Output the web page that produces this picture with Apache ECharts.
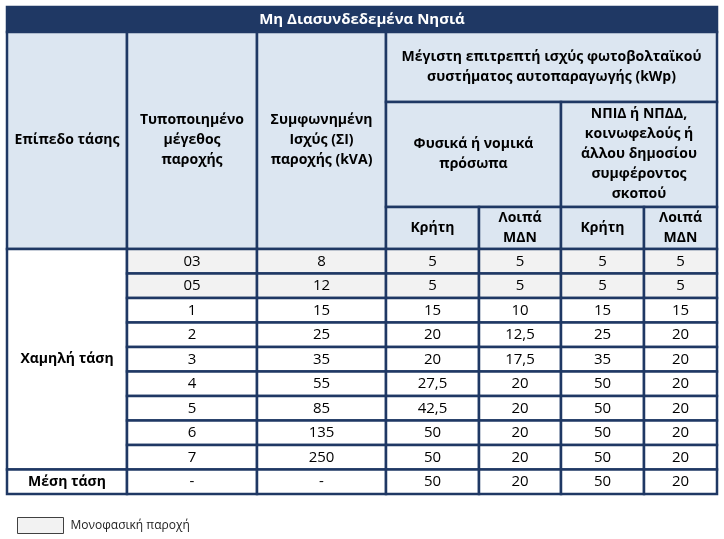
<!DOCTYPE html>
<html><head><meta charset="utf-8">
<script src="https://cdn.jsdelivr.net/npm/echarts@6/dist/echarts.min.js"></script>
<style>html,body{margin:0;padding:0;background:#fff}#c{width:724px;height:539px}</style>
</head><body><div id="c"></div>
<script>
// ---- data ----
const tableTitle = 'Μη Διασυνδεδεμένα Νησιά';
const headVoltage = 'Επίπεδο τάσης';
const headSize = 'Τυποποιημένο\nμέγεθος\nπαροχής';
const headAgreed = 'Συμφωνημένη\nΙσχύς (ΣΙ)\nπαροχής (kVA)';
const headMaxPower = 'Μέγιστη επιτρεπτή ισχύς φωτοβολταϊκού\nσυστήματος αυτοπαραγωγής (kWp)';
const headGroups = ['Φυσικά ή νομικά\nπρόσωπα', 'ΝΠΙΔ ή ΝΠΔΔ,\nκοινωφελούς ή\nάλλου δημοσίου\nσυμφέροντος\nσκοπού'];
const headRegions = ['Κρήτη', 'Λοιπά\nΜΔΝ', 'Κρήτη', 'Λοιπά\nΜΔΝ'];
const voltageLevels = ['Χαμηλή τάση', 'Μέση τάση'];
const voltageRowCounts = [9, 1];
const sizeCategories = ['03', '05', '1', '2', '3', '4', '5', '6', '7', '-'];
const agreedPower = ['8', '12', '15', '25', '35', '55', '85', '135', '250', '-'];
const personsCrete = [5, 5, 15, 20, 20, 27.5, 42.5, 50, 50, 50];
const personsOther = [5, 5, 10, 12.5, 17.5, 20, 20, 20, 20, 20];
const publicCrete = [5, 5, 15, 25, 35, 50, 50, 50, 50, 50];
const publicOther = [5, 5, 15, 20, 20, 20, 20, 20, 20, 20];
const singlePhase = [true, true, false, false, false, false, false, false, false, false];
const legendLabel = 'Μονοφασική παροχή';

// ---- layout & style ----
const colEdges = [0, 120, 250, 379, 472, 554, 637, 710];
const headEdges = [0, 25, 95, 200, 242];
const rowH = 24.5;
const NAVY = '#1f3864';
const HEAD_FILL = '#dce6f1';
const GRAY = '#f2f2f2';
const FONT = '"Open Sans","Noto Sans",sans-serif';

const fmt = v => String(v).replace('.', ',');
const cells = [];
function cell(c0, c1, y0, y1, text, o) {
  cells.push(Object.assign({x0: colEdges[c0], x1: colEdges[c1], y0, y1, text, fill: '#fff', color: '#000', bold: false, size: 15}, o || {}));
}
const H = {fill: HEAD_FILL, bold: true, size: 14};
cell(0, 7, headEdges[0], headEdges[1], tableTitle, {fill: NAVY, color: '#fff', bold: true, size: 15});
cell(0, 1, headEdges[1], headEdges[4], headVoltage, H);
cell(1, 2, headEdges[1], headEdges[4], headSize, H);
cell(2, 3, headEdges[1], headEdges[4], headAgreed, H);
cell(3, 7, headEdges[1], headEdges[2], headMaxPower, H);
cell(3, 5, headEdges[2], headEdges[3], headGroups[0], H);
cell(5, 7, headEdges[2], headEdges[3], headGroups[1], H);
headRegions.forEach((t, i) => cell(3 + i, 4 + i, headEdges[3], headEdges[4], t, H));
const y0 = headEdges[4];
let r = 0;
voltageLevels.forEach((v, i) => {
  cell(0, 1, y0 + r * rowH, y0 + (r + voltageRowCounts[i]) * rowH, v, {bold: true, size: 14});
  r += voltageRowCounts[i];
});
sizeCategories.forEach((s, i) => {
  const o = {fill: singlePhase[i] ? GRAY : '#fff'};
  const a = y0 + i * rowH, b = a + rowH;
  [s, agreedPower[i], fmt(personsCrete[i]), fmt(personsOther[i]), fmt(publicCrete[i]), fmt(publicOther[i])]
    .forEach((t, j) => cell(1 + j, 2 + j, a, b, t, o));
});
const totalH = y0 + sizeCategories.length * rowH;

const chart = echarts.init(document.getElementById('c'), null, {renderer: 'canvas'});
chart.setOption({
  animation: false,
  grid: {left: 7, top: 7, width: colEdges[7], height: totalH},
  xAxis: {type: 'value', min: 0, max: colEdges[7], show: false},
  yAxis: {type: 'value', min: 0, max: totalH, inverse: true, show: false},
  legend: {
    left: 17, top: 517, padding: 0, icon: 'rect', itemWidth: 46, itemHeight: 16,
    itemStyle: {borderColor: '#404040', borderWidth: 1},
    textStyle: {fontFamily: FONT, fontSize: 12, color: '#222', padding: [0, 0, 0, 2]},
    data: [legendLabel]
  },
  series: [
    {
      type: 'custom', name: 'table', coordinateSystem: 'cartesian2d',
      data: cells.map((c, i) => [c.x0, c.y0, i]),
      encode: {x: 0, y: 1},
      renderItem(params, api) {
        const c = cells[params.dataIndex];
        const p0 = api.coord([c.x0, c.y0]);
        const p1 = api.coord([c.x1, c.y1]);
        return {type: 'group', children: [
          {type: 'rect', shape: {x: p0[0], y: p0[1], width: p1[0] - p0[0], height: p1[1] - p0[1]},
           style: {fill: c.fill, stroke: NAVY, lineWidth: 2.5}},
          {type: 'text', x: (p0[0] + p1[0]) / 2, y: (p0[1] + p1[1]) / 2,
           style: {text: c.text, fill: c.color, align: 'center', verticalAlign: 'middle',
                   fontFamily: FONT, fontSize: c.size, fontWeight: c.bold ? 'bold' : 'normal', lineHeight: 20}}
        ]};
      }
    },
    {
      type: 'custom', name: legendLabel, coordinateSystem: 'cartesian2d', data: [],
      itemStyle: {color: GRAY}, renderItem: () => null
    }
  ]
});
</script></body></html>
